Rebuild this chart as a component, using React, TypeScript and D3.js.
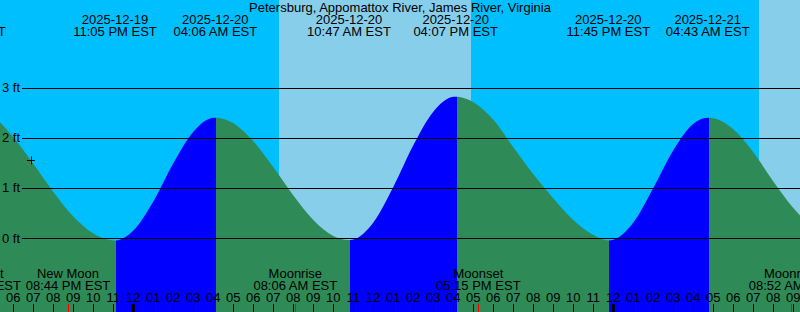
import React from "react";
import * as d3 from "d3";

const W = 800;
const H = 312;

const title = "Petersburg, Appomattox River, James River, Virginia";

// Tide curve samples: hours relative to 2025-12-20 00:00 EST, level in ft
const tideHours = [-8.5, -7, -6, -5, -4, -3, -2, -1, -0.917, 0, 1, 2, 3, 4, 4.1, 5, 6, 7, 8, 9, 10, 10.783, 11, 12, 13, 14, 15, 16, 16.117, 17, 18, 19, 20, 21, 22, 23, 23.75, 24, 25, 26, 27, 28, 28.717, 29, 30, 31, 32, 33, 34, 35.4];
const tideLevels = [2.69, 2.43, 2.01, 1.48, 0.92, 0.43, 0.09, -0.049, -0.05, 0.15, 0.73, 1.49, 2.12, 2.398, 2.4, 2.29, 1.93, 1.41, 0.85, 0.36, 0.04, -0.04, -0.03, 0.31, 1.02, 1.85, 2.52, 2.817, 2.82, 2.71, 2.36, 1.81, 1.27, 0.79, 0.36, 0.06, -0.05, -0.035, 0.31, 1.0, 1.75, 2.28, 2.4, 2.39, 2.17, 1.71, 1.13, 0.6, 0.2, -0.03];

// High / low tide events
const extremeStamps = ["2025-12-19 03:30 PM", "2025-12-19 11:05 PM", "2025-12-20 04:06 AM", "2025-12-20 10:47 AM", "2025-12-20 04:07 PM", "2025-12-20 11:45 PM", "2025-12-21 04:43 AM", "2025-12-21 11:24 AM"];
const extremeKinds = ["H", "L", "H", "L", "H", "L", "H", "L"];

// Moon events
const moonNames = ["Moonset", "New Moon", "Moonrise", "Moonset", "Moonrise"];
const moonStamps = ["2025-12-19 04:16 PM", "2025-12-19 08:44 PM", "2025-12-20 08:06 AM", "2025-12-20 05:15 PM", "2025-12-21 08:52 AM"];

// Daylight intervals
const sunrises = ["2025-12-20 07:17 AM", "2025-12-21 07:17 AM"];
const sunsets = ["2025-12-20 04:53 PM", "2025-12-21 04:53 PM"];

const levelTicks = [0, 1, 2, 3];

// Current-time marker
const markerHour = -5.12;
const markerLevel = 1.55;

const parse = d3.timeParse("%Y-%m-%d %I:%M %p");
const fmtDate = d3.timeFormat("%Y-%m-%d");
const fmtTime = d3.timeFormat("%I:%M %p EST");
const base = parse("2025-12-20 12:00 AM") as Date;
const fromHours = (h: number) => new Date(base.getTime() + h * 3600000);

const FONT = "'Liberation Sans', Arial, Helvetica, sans-serif";
const FS = 13;

export default function App() {
  const x = d3
    .scaleTime()
    .domain([parse("2025-12-19 05:20 PM") as Date, parse("2025-12-21 09:20 AM") as Date])
    .range([0, W]);
  const y = d3.scaleLinear().domain([0, 3]).range([238, 87.7]);

  const pts = tideHours.map((h, i) => ({ t: fromHours(h), v: tideLevels[i] }));
  const area = d3
    .area<{ t: Date; v: number }>()
    .x((d) => x(d.t))
    .y0(H)
    .y1((d) => y(d.v))
    .curve(d3.curveMonotoneX);
  const areaPath = area(pts) || "";

  const extremes = extremeStamps.map((s) => parse(s) as Date);
  const segs = extremes.slice(0, -1).map((t, i) => ({
    x0: Math.round(x(t)) + 1,
    x1: Math.round(x(extremes[i + 1])) + 1,
    rising: extremeKinds[i] === "L",
  }));

  const hourTicks = d3.timeHour.range(x.domain()[0], new Date(x.domain()[1].getTime() + 1));
  const days = sunrises.map((s, i) => ({ x0: x(parse(s) as Date), x1: x(parse(sunsets[i]) as Date) }));

  const mx = x(fromHours(markerHour));
  const my = y(markerLevel);

  return (
    <svg
      width={W}
      height={H}
      style={{ position: "fixed", left: 0, top: 0, display: "block" }}
      fontFamily={FONT}
      fontSize={FS}
    >
      <defs>
        {segs.map((s, i) => (
          <clipPath id={`seg${i}`} key={i}>
            <rect x={s.x0} y={0} width={s.x1 - s.x0} height={H} />
          </clipPath>
        ))}
      </defs>
      <rect x={0} y={0} width={W} height={H} fill="#00bfff" />
      {days.map((d, i) => (
        <rect key={i} x={d.x0} y={0} width={d.x1 - d.x0} height={H} fill="#87ceeb" />
      ))}
      {segs.map((s, i) => (
        <path key={i} d={areaPath} fill={s.rising ? "#0000ff" : "#2e8b57"} clipPath={`url(#seg${i})`} />
      ))}
      {levelTicks.map((v) => (
        <g key={v}>
          <line x1={22} x2={W} y1={Math.round(y(v)) + 0.5} y2={Math.round(y(v)) + 0.5} stroke="#000" />
          <text x={2} y={y(v) + 4.5} fill="#000">{`${v} ft`}</text>
        </g>
      ))}
      <text x={W / 2} y={12} textAnchor="middle" fill="#000">{title}</text>
      {extremes.map((t, i) => (
        <g key={i} textAnchor="middle" fill="#000">
          <text x={x(t)} y={24}>{fmtDate(t)}</text>
          <text x={x(t)} y={36}>{fmtTime(t)}</text>
        </g>
      ))}
      {moonStamps.map((s, i) => {
        const t = parse(s) as Date;
        return (
          <g key={i} textAnchor="middle" fill="#000">
            <text x={x(t)} y={278}>{moonNames[i]}</text>
            <text x={x(t)} y={290}>{fmtTime(t)}</text>
          </g>
        );
      })}
      {hourTicks.map((t, i) => {
        const hx = x(t);
        const isMid = t.getHours() === 0;
        const lbl = String(((t.getHours() + 11) % 12) + 1).padStart(2, "0");
        return (
          <g key={i}>
            <text x={hx} y={302} textAnchor="middle" fill="#000">{lbl}</text>
            <line
              x1={isMid ? hx : Math.round(hx) + 0.5}
              x2={isMid ? hx : Math.round(hx) + 0.5}
              y1={304}
              y2={H}
              stroke="#000"
              strokeWidth={isMid ? 3 : 1}
            />
          </g>
        );
      })}
      {moonStamps.map((s, i) => {
        const mxp = Math.round(x(parse(s) as Date)) + 0.5;
        return <line key={i} x1={mxp} x2={mxp} y1={304} y2={H} stroke="#ff0000" />;
      })}
      <line x1={mx - 4} x2={mx + 4} y1={Math.round(my) + 0.5} y2={Math.round(my) + 0.5} stroke="#000" />
      <line x1={Math.round(mx) + 0.5} x2={Math.round(mx) + 0.5} y1={my - 4} y2={my + 4} stroke="#000" />
    </svg>
  );
}
